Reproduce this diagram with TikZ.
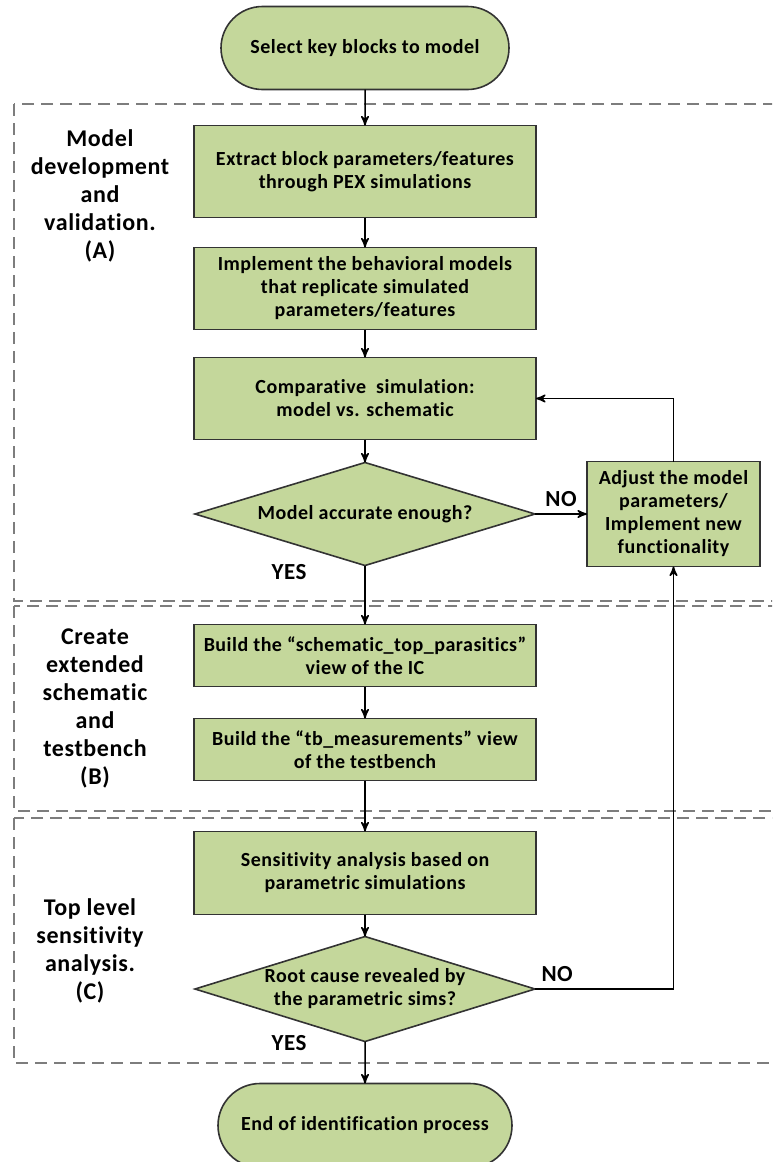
\documentclass[tikz,border=0pt]{standalone}
\usepackage{fontspec}
\setmainfont{Carlito}[LetterSpace=2.5,Ligatures=NoCommon]
\usepackage{tikz}
\usetikzlibrary{arrows,shapes.geometric,shapes.misc}
\usetikzlibrary{positioning}
\definecolor{boxgreen}{RGB}{196,215,155}
\definecolor{dashgray}{RGB}{125,125,125}
\tikzset{
    block/.style={
           rectangle,
           draw=black!80,
           fill=boxgreen,
           line width=0.8pt,
           minimum width=171pt,
           inner sep=2pt,
           outer sep=0pt,
           align=center,
           font=\fontsize{10}{11.5}\selectfont\bfseries,
           },
    term/.style={
           block,
           rounded rectangle,
           minimum width=148pt,
           },
    decision/.style={
           block,
           diamond,
           aspect=3.3,
           minimum width=170pt,
           inner sep=0pt,
           },
    phase/.style={
           align=center,
           font=\fontsize{12}{14}\selectfont\bfseries,
           },
    answer/.style={
           font=\fontsize{11.5}{12}\selectfont\bfseries,
           },
    region/.style={
           draw=dashgray,
           dash pattern=on 6pt off 3.5pt,
           line width=1pt,
           },
}

\begin{document}
\begin{tikzpicture}[->,>=stealth',x=0.5pt,y=-0.5pt,line width=0.75pt]
 \useasboundingbox (0,0) rectangle (772,1162);
 \clip (0,0) rectangle (772,1162);

 \draw[region,-] (14,104) rectangle (800,601);
 \draw[region,-] (14,606) rectangle (800,811);
 \draw[region,-] (14,818) rectangle (800,1063);

 \node[phase] (PHASEA) at (100,196)
   {Model\\development\\and\\validation.\\(A)};
 \node[phase] (PHASEB) at (95,708)
   {Create\\extended\\schematic\\and\\testbench\\(B)};
 \node[phase] (PHASEC) at (90,951)
   {Top level\\sensitivity\\analysis.\\(C)};

 \node[term,
 minimum height=41.5pt] (SELECT) at (365,48)
 {Select key blocks to model};

 \node[block,
 below=18pt of SELECT,
 minimum height=46pt] (EXTRACT)
 {Extract block parameters/features\\through PEX simulations};

 \node[block,
 below=15pt of EXTRACT,
 minimum height=41pt] (IMPLEMENT)
 {Implement the behavioral models\\that replicate simulated\\parameters/features};

 \node[block,
 below=14pt of IMPLEMENT,
 minimum height=41pt] (COMPARE)
 {Comparative\ \ simulation:\\model vs. schematic};

 \node[decision,
 below=11.5pt of COMPARE,
 minimum height=51.5pt] (ACCURATE)
 {Model accurate enough?};

 \node[block,
 right=26pt of ACCURATE,
 minimum width=86.5pt,
 minimum height=52.5pt] (ADJUST)
 {Adjust the model\\parameters/\\Implement new\\functionality};

 \node[block,
 below=29.5pt of ACCURATE,
 minimum height=31pt] (BUILDTOP)
 {Build the “schematic\_top\_parasitics”\\view of the IC};

 \node[block,
 below=16pt of BUILDTOP,
 minimum height=31pt] (BUILDTB)
 {Build the “tb\_measurements” view\\of the testbench};

 \node[block,
 below=25.5pt of BUILDTB,
 minimum height=41.5pt] (SENS)
 {Sensitivity analysis based on\\parametric simulations};

 \node[decision,
 below=11pt of SENS,
 minimum height=52.5pt] (ROOT)
 {Root cause revealed by\\the parametric sims?};

 \node[term,
 below=21pt of ROOT,
 minimum width=151pt,
 minimum height=42pt] (END)
 {End of identification process};

 \node[answer] (YESA) at ([xshift=-38pt,yshift=-3.5pt]ACCURATE.south) {YES};
 \node[answer] (YESB) at ([xshift=-38pt,yshift=-1pt]ROOT.south) {YES};

 \path (SELECT) edge (EXTRACT)
   (EXTRACT) edge (IMPLEMENT)
   (IMPLEMENT) edge (COMPARE)
   (COMPARE) edge (ACCURATE)
   (ACCURATE) edge (BUILDTOP)
   (BUILDTOP) edge (BUILDTB)
   (BUILDTB) edge (SENS)
   (SENS) edge (ROOT)
   (ROOT) edge (END)
 ;
 \path (ACCURATE) edge node[answer,above] {NO} (ADJUST);
 \draw (ADJUST.north) |- (COMPARE.east);
 \draw (ROOT.east) -| node[answer,above,pos=0.08] {NO} (ADJUST.south);
\end{tikzpicture}
\end{document}
